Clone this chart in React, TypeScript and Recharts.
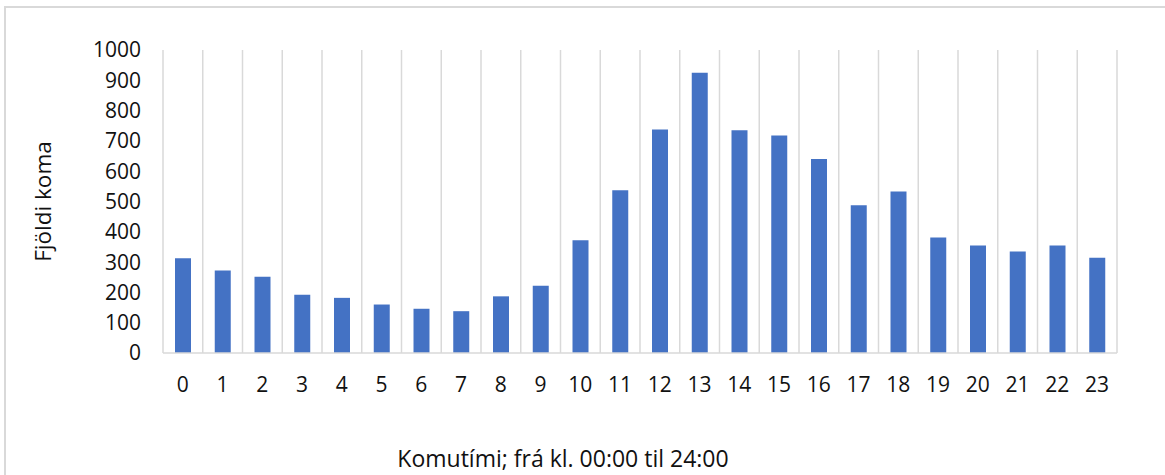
import { BarChart, Bar, XAxis, YAxis, CartesianGrid, Label } from 'recharts'

const hours = ['0', '1', '2', '3', '4', '5', '6', '7', '8', '9', '10', '11', '12', '13', '14', '15', '16', '17', '18', '19', '20', '21', '22', '23']
const arrivals = [313, 272, 252, 192, 182, 160, 146, 138, 187, 222, 372, 537, 738, 925, 735, 718, 640, 488, 533, 381, 355, 335, 355, 314]
const yTicks = [0, 100, 200, 300, 400, 500, 600, 700, 800, 900, 1000]

const data = hours.map((h, i) => ({ hour: h, count: arrivals[i] }))

const FONT = '"Open Sans", sans-serif'
const GRID = '#d9d9d9'
const INK = '#111'

// one line on every category boundary, like Excel's vertical major gridlines
const boundaries = ({ offset }: any) =>
  Array.from({ length: hours.length + 1 }, (_, i) => offset.left + (i * offset.width) / hours.length)

export default function App() {
  return (
    <div style={{ position: 'absolute', left: 0, top: 0, width: 1165, height: 475, background: '#fff', overflow: 'hidden' }}>
      <div
        style={{
          position: 'absolute',
          left: 4,
          top: 6,
          width: 1200,
          height: 500,
          border: `2px solid ${GRID}`,
          boxSizing: 'border-box',
        }}
      />
      <BarChart
        width={1165}
        height={475}
        data={data}
        margin={{ top: 50, right: 48, left: 0, bottom: 0 }}
        style={{ position: 'absolute', left: 0, top: 0, fontFamily: FONT }}
      >
        <CartesianGrid horizontal={false} stroke={GRID} strokeWidth={1.5} verticalCoordinatesGenerator={boundaries} />
        <XAxis
          dataKey="hour"
          height={122}
          axisLine={{ stroke: GRID, strokeWidth: 1.5 }}
          tickLine={false}
          tickSize={0}
          tickMargin={24}
          interval={0}
          tick={{ fontSize: 21, fill: INK, fontFamily: FONT }}
        >
          <Label
            value="Komutími; frá kl. 00:00 til 24:00"
            position="insideBottom"
            offset={8}
            dx={-77}
            style={{ fontSize: 23, fill: INK, fontFamily: FONT }}
          />
        </XAxis>
        <YAxis
          width={163}
          domain={[0, 1000]}
          ticks={yTicks}
          interval={0}
          axisLine={false}
          tickLine={false}
          tickSize={0}
          tickMargin={22}
          tick={{ fontSize: 21, fill: INK, fontFamily: FONT }}
        >
          <Label
            content={({ viewBox }: any) => {
              const cy = viewBox.y + viewBox.height / 2
              return (
                <text
                  x={42}
                  y={cy}
                  transform={`rotate(-90 42 ${cy})`}
                  textAnchor="middle"
                  dominantBaseline="central"
                  style={{ fontSize: 22.5, fill: INK, fontFamily: FONT }}
                >
                  Fjöldi koma
                </text>
              )
            }}
          />
        </YAxis>
        <Bar dataKey="count" fill="#4472c4" barSize={16} isAnimationActive={false} />
      </BarChart>
    </div>
  )
}
